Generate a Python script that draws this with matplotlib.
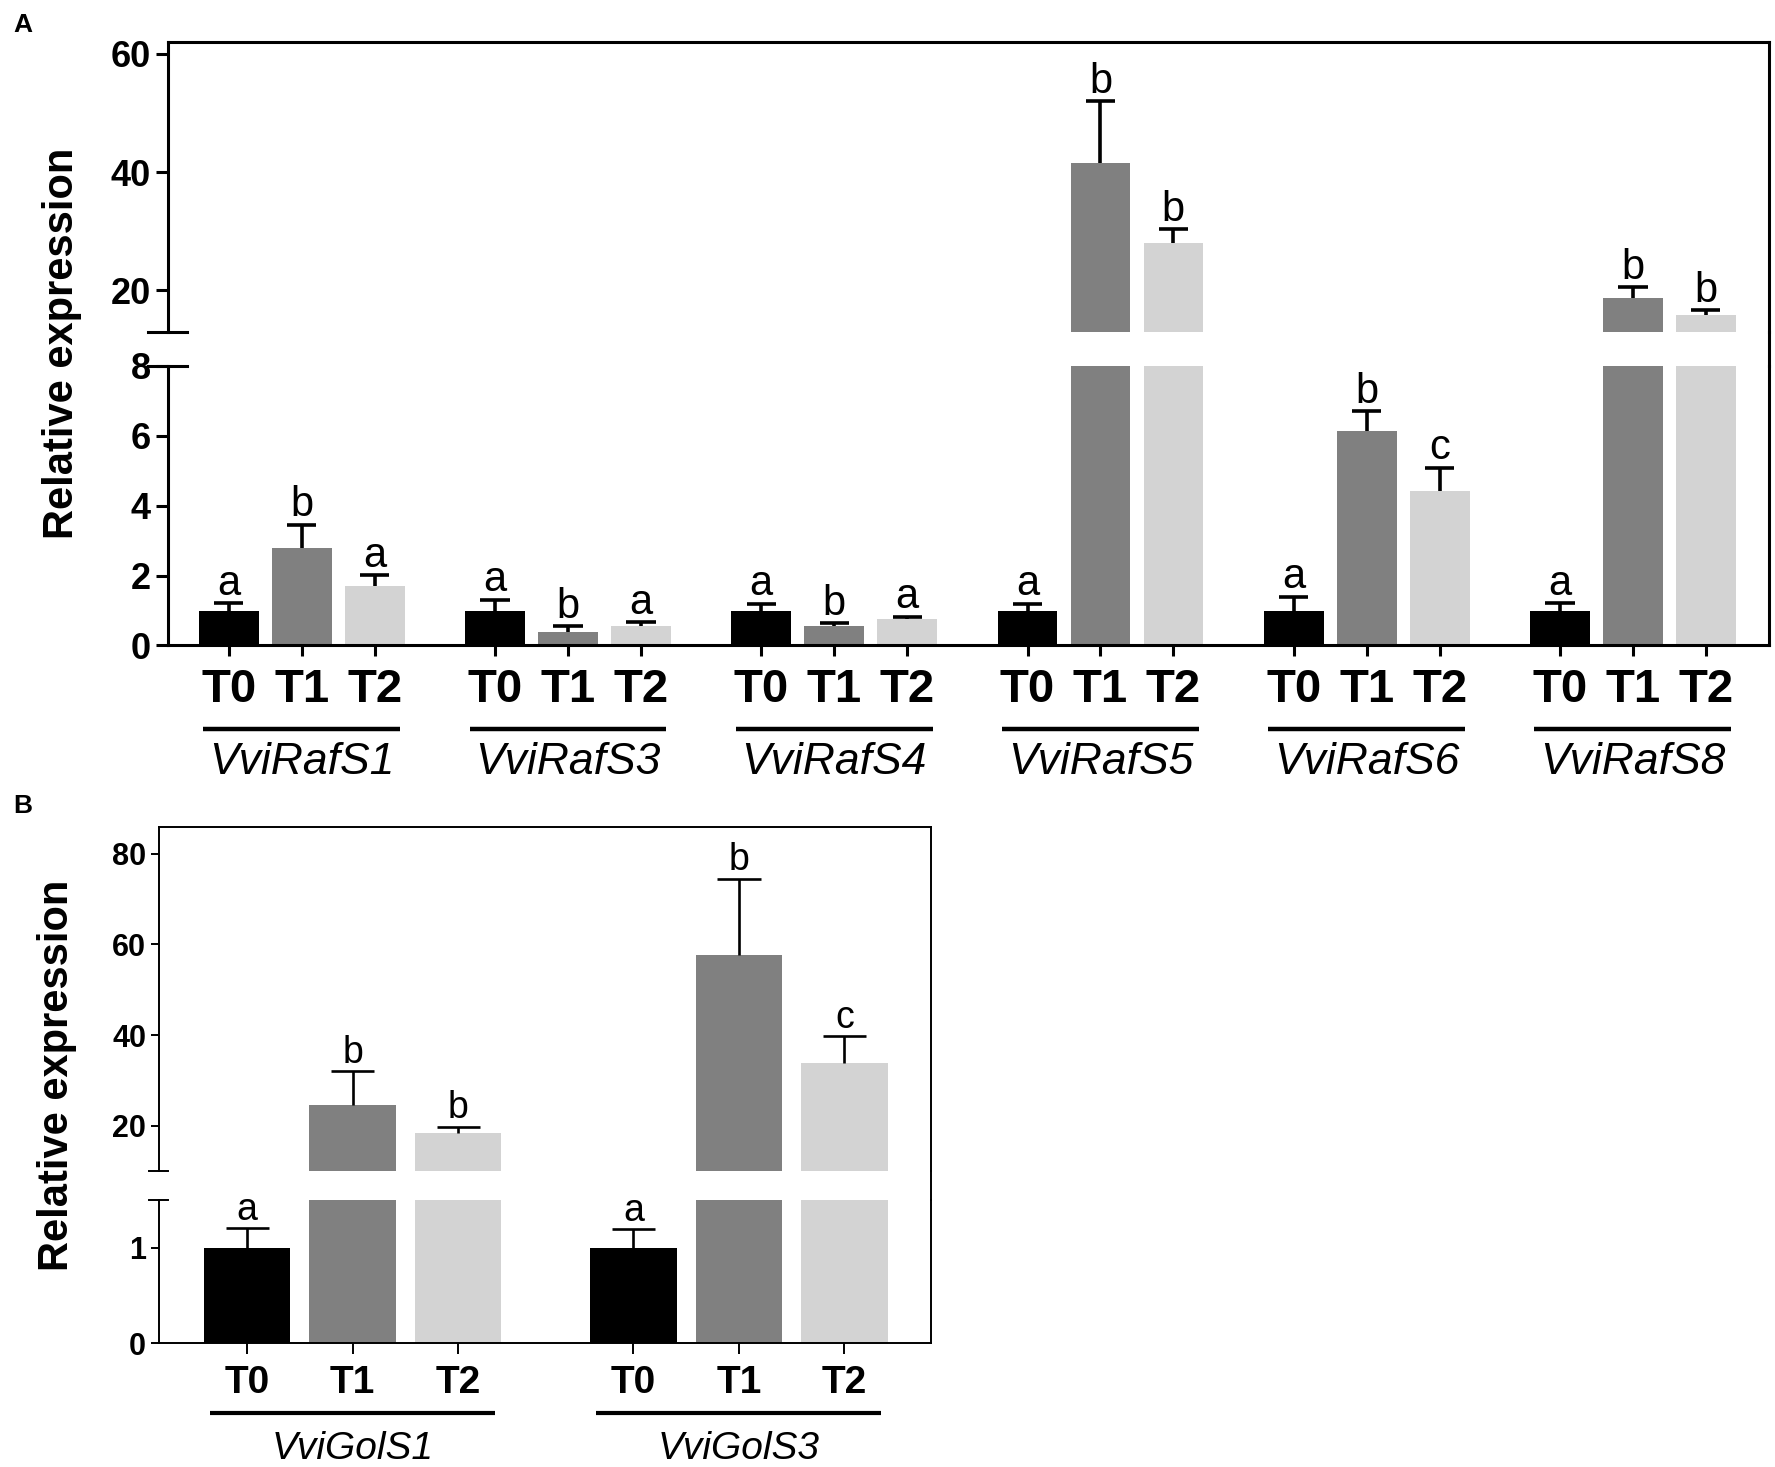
import matplotlib
matplotlib.use("Agg")
import matplotlib.pyplot as plt
import matplotlib.transforms as mtransforms
from matplotlib.lines import Line2D
import numpy as np

# ---- data ----
treatments = ['T0', 'T1', 'T2']
bar_colors = ['#000000', '#808080', '#d3d3d3']

raf_genes = ['VviRafS1', 'VviRafS3', 'VviRafS4', 'VviRafS5', 'VviRafS6', 'VviRafS8']
raf_t0 = [1.0, 1.0, 1.0, 1.0, 1.0, 1.0]
raf_t1 = [2.79, 0.38, 0.55, 41.6, 6.15, 18.8]
raf_t2 = [1.71, 0.56, 0.76, 28.0, 4.42, 15.9]
raf_t0_err = [0.22, 0.31, 0.2, 0.2, 0.4, 0.22]
raf_t1_err = [0.67, 0.17, 0.08, 10.4, 0.56, 1.8]
raf_t2_err = [0.3, 0.1, 0.06, 2.3, 0.67, 0.8]
raf_t0_let = ['a', 'a', 'a', 'a', 'a', 'a']
raf_t1_let = ['b', 'b', 'b', 'b', 'b', 'b']
raf_t2_let = ['a', 'a', 'a', 'b', 'c', 'b']

gol_genes = ['VviGolS1', 'VviGolS3']
gol_t0 = [1.0, 1.0]
gol_t1 = [24.6, 57.6]
gol_t2 = [18.4, 33.9]
gol_t0_err = [0.21, 0.2]
gol_t1_err = [7.5, 16.9]
gol_t2_err = [1.4, 5.9]
gol_t0_let = ['a', 'a']
gol_t1_let = ['b', 'b']
gol_t2_let = ['b', 'c']

SANS = ['Liberation Sans', 'DejaVu Sans']

fig = plt.figure(figsize=(17.75, 14.67), dpi=100)


def panel(rect_top, rect_bot, genes, means, errs, lets, ylim_top, ylim_bot,
          ticks_top, ticks_bot, step, xlim, lw, elw, cap_half, fs):
    ax_t = fig.add_axes(rect_top)
    ax_b = fig.add_axes(rect_bot)
    n = len(genes)
    for i in range(3):
        x = np.arange(n) * step + i
        m = np.array(means[i])
        e = np.array(errs[i])
        for ax in (ax_t, ax_b):
            ax.bar(x, m, width=0.82, color=bar_colors[i], zorder=2)
            ax.vlines(x, m, m + e, colors='black', linewidth=elw, zorder=3)
            ax.hlines(m + e, x - cap_half, x + cap_half, colors='black',
                      linewidth=elw, zorder=3)
        for xi, mi, ei, li in zip(x, m, e, lets[i]):
            ax = ax_t if mi > ylim_top[0] else ax_b
            ax.annotate(li, (xi, mi + ei), xytext=(0, 6), textcoords='offset points',
                        ha='center', va='baseline', fontsize=fs['let'],
                        family=SANS, annotation_clip=False)

    for ax, yl, tk in ((ax_t, ylim_top, ticks_top), (ax_b, ylim_bot, ticks_bot)):
        ax.set_xlim(*xlim)
        ax.set_ylim(*yl)
        ax.set_yticks(tk)
        ax.set_yticklabels([str(t) for t in tk], fontsize=fs['tick'],
                           fontweight='bold', family=SANS)
        ax.tick_params(axis='y', direction='out', length=fs['tl'], width=lw, pad=3)
        for s in ax.spines.values():
            s.set_linewidth(lw)
        ax.patch.set_alpha(0)

    ax_t.spines['bottom'].set_visible(False)
    ax_t.set_xticks([])
    ax_b.spines['top'].set_visible(False)

    xt = [g * step + i for g in range(n) for i in range(3)]
    ax_b.set_xticks(xt)
    ax_b.set_xticklabels(treatments * n, fontsize=fs['T'], fontweight='bold',
                         family=SANS)
    ax_b.tick_params(axis='x', direction='out', length=8, width=lw, pad=fs['pad'])

    # break marks on the left spine
    for ax, yv in ((ax_t, 0), (ax_b, 1)):
        ax.plot([-0.012, 0.012], [yv, yv], transform=ax.transAxes, color='black',
                linewidth=lw, clip_on=False)

    # right border through the gap
    x_r = rect_top[0] + rect_top[2]
    fig.add_artist(Line2D([x_r, x_r], [rect_bot[1] + rect_bot[3], rect_top[1]],
                          transform=fig.transFigure, color='black', linewidth=lw))

    # gene underlines and names
    trans = mtransforms.blended_transform_factory(ax_b.transData, ax_b.transAxes)
    for g, name in enumerate(genes):
        x0 = g * step - 0.35
        x1 = g * step + 2 + 0.35
        ax_b.plot([x0, x1], [fs['uy'], fs['uy']], transform=trans, color='black',
                  linewidth=fs['ulw'], clip_on=False, solid_capstyle='butt')
        ax_b.text(g * step + 1, fs['gy'], name, transform=trans, ha='center',
                  va='center', fontsize=fs['gene'], style='italic', family=SANS)
    return ax_t, ax_b


panel([0.0944, 0.7738, 0.902, 0.1976], [0.0944, 0.56, 0.902, 0.1906],
      raf_genes, [raf_t0, raf_t1, raf_t2], [raf_t0_err, raf_t1_err, raf_t2_err],
      [raf_t0_let, raf_t1_let, raf_t2_let], (13, 62), (0, 8), [20, 40, 60],
      [0, 2, 4, 6, 8], 3.65, (-0.84, 21.11), 2.2, 2.6, 0.2,
      dict(let=30, tick=26, T=34, gene=32, pad=8, uy=-0.297, gy=-0.417, ulw=3.2,
           tl=9))

panel([0.0893, 0.2018, 0.4352, 0.2347], [0.0893, 0.0845, 0.4352, 0.0972],
      gol_genes, [gol_t0, gol_t1, gol_t2], [gol_t0_err, gol_t1_err, gol_t2_err],
      [gol_t0_let, gol_t1_let, gol_t2_let], (10, 86), (0, 1.5), [20, 40, 60, 80],
      [0, 1], 3.66, (-0.84, 6.48), 1.4, 1.9, 0.205,
      dict(let=27, tick=22, T=28, gene=28, pad=8, uy=-0.49, gy=-0.745, ulw=3.0,
           tl=6))

fig.text(0.035, 0.766, 'Relative expression', rotation=90, ha='center', va='center',
         fontsize=30, fontweight='bold', family=SANS)
fig.text(0.032, 0.267, 'Relative expression', rotation=90, ha='center', va='center',
         fontsize=30, fontweight='bold', family=SANS)
fig.text(0.0127, 0.983, 'A', ha='center', va='center', fontsize=19,
         fontweight='bold', family=SANS)
fig.text(0.0127, 0.4506, 'B', ha='center', va='center', fontsize=19,
         fontweight='bold', family=SANS)

fig.savefig('out.png', dpi=100)
